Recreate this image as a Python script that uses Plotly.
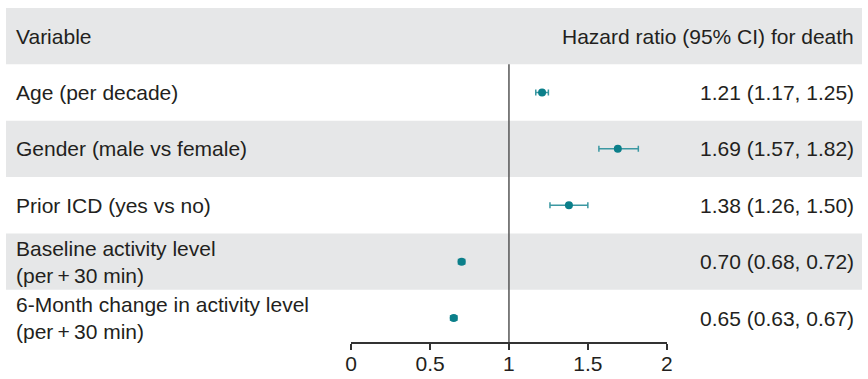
import plotly.graph_objects as go

variables = ["Age (per decade)", "Gender (male vs female)", "Prior ICD (yes vs no)",
             "Baseline activity level<br>(per\u2009+\u200930 min)",
             "6-Month change in activity level<br>(per\u2009+\u200930 min)"]
hr = [1.21, 1.69, 1.38, 0.70, 0.65]
lo = [1.17, 1.57, 1.26, 0.68, 0.63]
hi = [1.25, 1.82, 1.50, 0.72, 0.67]
tick_vals = [0, 0.5, 1, 1.5, 2]
tick_text = ["0", "0.5", "1", "1.5", "2"]
header_left = "Variable"
header_right = "Hazard ratio (95% CI) for death"

W, H = 868, 379
FONT = "Liberation Sans, Arial, sans-serif"
TXT = "#231f20"
BAND = "#e6e7e8"
TEAL = "#0b7f8a"
TEAL_EB = "#3b98a2"
fs = 21

rows = list(range(len(variables)))
labels = [f"{h:.2f} ({l:.2f}, {u:.2f})" for h, l, u in zip(hr, lo, hi)]

fig = go.Figure()
fig.add_trace(go.Scatter(
    x=hr, y=rows, mode="markers",
    marker=dict(color=TEAL, size=8, line=dict(width=0)),
    error_x=dict(type="data", symmetric=False,
                 array=[u - h for h, u in zip(hr, hi)],
                 arrayminus=[h - l for h, l in zip(hr, lo)],
                 color=TEAL_EB, thickness=1.5, width=3),
    showlegend=False, hoverinfo="skip"))

shapes = []
band_x0 = 0
shapes.append(dict(type="rect", xref="paper", yref="y", x0=band_x0, x1=1,
                   y0=-1.5, y1=-0.5, fillcolor=BAND, line_width=0, layer="below"))
for i in rows:
    if i % 2 == 1:
        shapes.append(dict(type="rect", xref="paper", yref="y", x0=band_x0, x1=1,
                           y0=i - 0.5, y1=i + 0.5, fillcolor=BAND, line_width=0, layer="below"))
shapes.append(dict(type="line", xref="x", yref="y", x0=1, x1=1, y0=-0.5, y1=4.425,
                   line=dict(color="#555555", width=1.5)))

LX = 8 / W
RX = 862 / W
ann = []
ann.append(dict(text=header_left, x=LX, xref="paper", y=-1, yref="y",
                xanchor="left", yanchor="middle", showarrow=False,
                font=dict(size=fs, color=TXT, family=FONT)))
ann.append(dict(text=header_right, x=RX, xref="paper", y=-1, yref="y",
                xanchor="right", yanchor="middle", showarrow=False,
                font=dict(size=fs, color=TXT, family=FONT)))
for i, (v, t) in enumerate(zip(variables, labels)):
    ann.append(dict(text=v, x=LX, xref="paper", y=i, yref="y",
                    xanchor="left", yanchor="middle", align="left", showarrow=False,
                    font=dict(size=fs, color=TXT, family=FONT)))
    ann.append(dict(text=t, x=RX, xref="paper", y=i, yref="y",
                    xanchor="right", yanchor="middle", showarrow=False,
                    font=dict(size=fs, color=TXT, family=FONT)))

fig.update_layout(
    width=W, height=H, margin=dict(l=0, r=0, t=0, b=0),
    paper_bgcolor="white", plot_bgcolor="rgba(0,0,0,0)",
    shapes=shapes, annotations=ann,
    xaxis=dict(domain=[350 / W, 670 / W], range=[0, 2], tickvals=tick_vals,
               ticktext=tick_text, showline=True, linecolor="#333333", linewidth=1.5,
               ticks="outside", ticklen=6, tickwidth=1.5, tickcolor="#333333",
               ticklabelstandoff=-4,
               showgrid=False, zeroline=False,
               tickfont=dict(size=fs, color=TXT, family=FONT)),
    yaxis=dict(domain=[(H - 342) / H, 1], range=[4.425, -1.64], visible=False,
               showgrid=False, zeroline=False),
)

fig.write_html("out.html", config={"displayModeBar": False},
               post_script="document.body.style.margin='0';document.body.style.overflow='hidden';")
